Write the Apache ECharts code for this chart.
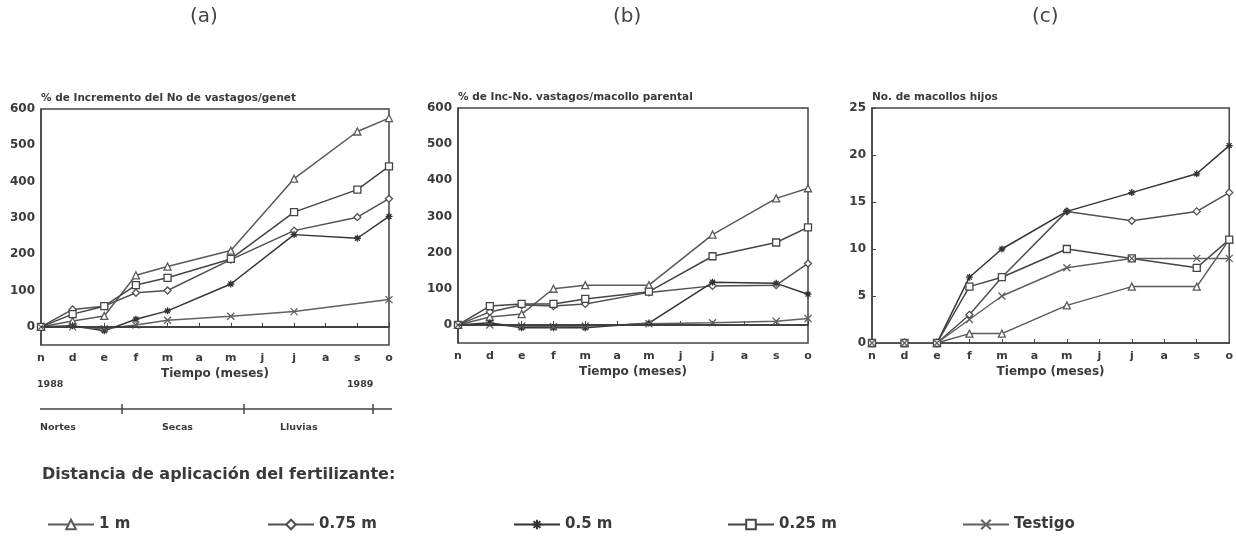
<!DOCTYPE html>
<html>
<head>
<meta charset="utf-8">
<script src="https://cdn.jsdelivr.net/npm/echarts@6/dist/echarts.min.js"></script>
<style>
  html, body { margin: 0; padding: 0; background: #fff; }
  #main { width: 1236px; height: 536px; }
</style>
</head>
<body>
<div id="main"></div>
<script>
// months Nov 1988 .. Oct 1989
var months = ["n", "d", "e", "f", "m", "a", "m", "j", "j", "a", "s", "o"];
var names = ["1 m", "0.75 m", "0.5 m", "0.25 m", "Testigo"];

// (a) % de incremento del No de vastagos/genet
var a1m = [0, 16, 30, 142, 166, null, 210, null, 408, null, 538, 575];
var a075 = [0, 48, 57, 94, 100, null, 185, null, 265, null, 302, 353];
var a05 = [0, 3, -11, 21, 44, null, 118, null, 254, null, 244, 304];
var a025 = [0, 35, 57, 115, 135, null, 187, null, 316, null, 378, 442];
var aTest = [0, 0, -5, 5, 18, null, 29, null, 42, null, null, 75];

// (b) % de Inc-No. vastagos/macollo parental
var b1m = [0, 22, 30, 100, 110, null, 110, null, 250, null, 350, 378];
var b075 = [0, 36, 55, 52, 58, null, 90, null, 108, null, 110, 170];
var b05 = [0, 6, -8, -8, -8, null, 5, null, 118, null, 115, 85];
var b025 = [0, 52, 58, 58, 72, null, 92, null, 190, null, 228, 270];
var bTest = [0, 0, -3, -5, -3, null, 3, null, 6, null, 10, 18];

// (c) No. de macollos hijos
var c1m = [0, 0, 0, 1, 1, null, 4, null, 6, null, 6, 11];
var c075 = [0, 0, 0, 3, 7, null, 14, null, 13, null, 14, 16];
var c05 = [0, 0, 0, 7, 10, null, 14, null, 16, null, 18, 21];
var c025 = [0, 0, 0, 6, 7, null, 10, null, 9, null, 8, 11];
var cTest = [0, 0, 0, 2.5, 5, null, 8, null, 9, null, 9, 9];

var yTicksPct = [0, 100, 200, 300, 400, 500, 600];
var yTicksC = [0, 5, 10, 15, 20, 25];

var FONT = "DejaVu Sans";
var INK = "#3a3a3a";

var asterisk = "path://M5,0L5,10M0,5L10,5M1.5,1.5L8.5,8.5M8.5,1.5L1.5,8.5";
var cross = "path://M0,0L10,10M10,0L0,10";
var styles = {
  "1 m": { symbol: "triangle", color: "#5a5a5a" },
  "0.75 m": { symbol: "diamond", color: "#505050" },
  "0.5 m": { symbol: asterisk, color: "#333333" },
  "0.25 m": { symbol: "rect", color: "#454545" },
  "Testigo": { symbol: cross, color: "#606060" }
};

var grids = [
  { left: 41, top: 109, width: 348, height: 236 },
  { left: 458, top: 108, width: 350, height: 235 },
  { left: 872, top: 108, width: 358, height: 235 }
];
grids.forEach(function (g) {
  g.show = true;
  g.borderColor = "#444";
  g.borderWidth = 1.5;
});

var axisNames = [
  "% de Incremento del No de vastagos/genet",
  "% de Inc-No. vastagos/macollo parental",
  "No. de macollos hijos"
];

var xAxes = [0, 1, 2].map(function (i) {
  return {
    type: "category", gridIndex: i, data: months, boundaryGap: false,
    axisLine: { lineStyle: { color: "#444", width: 1.5 } },
    axisTick: { inside: true, length: 4, lineStyle: { color: "#444" } },
    axisLabel: { color: INK, fontFamily: FONT, fontWeight: "bold", fontSize: 11, margin: 8, interval: 0 },
    name: "Tiempo (meses)", nameLocation: "middle", nameGap: 23,
    nameTextStyle: { color: INK, fontFamily: FONT, fontWeight: "bold", fontSize: 12 }
  };
});

var yAxes = [0, 1, 2].map(function (i) {
  var pct = i < 2;
  var ticks = pct ? yTicksPct : yTicksC;
  return {
    type: "value", gridIndex: i,
    min: pct ? -50 : 0, max: pct ? 600 : 25, interval: pct ? 50 : 5,
    splitLine: { show: false },
    axisLine: { show: true, lineStyle: { color: "#444", width: 1.5 } },
    axisTick: { show: !pct, inside: true, length: 4 },
    axisLabel: {
      color: INK, fontFamily: FONT, fontWeight: "bold", fontSize: 12, margin: 6,
      formatter: function (v) { return ticks.indexOf(v) >= 0 ? String(v) : ""; }
    },
    name: axisNames[i], nameLocation: "end", nameGap: 5,
    nameTextStyle: { color: INK, fontFamily: FONT, fontWeight: "bold", fontSize: 10.5, align: "left", verticalAlign: "bottom" }
  };
});

function mk(name, data, idx) {
  var s = styles[name];
  return {
    name: name, type: "line", xAxisIndex: idx, yAxisIndex: idx, data: data,
    connectNulls: true, symbol: s.symbol, symbolSize: 7,
    lineStyle: { color: s.color, width: 1.5 },
    itemStyle: { color: "#fff", borderColor: s.color, borderWidth: 1.3 },
    emphasis: { disabled: true }
  };
}

var series = [
  mk("1 m", a1m, 0), mk("0.75 m", a075, 0), mk("0.5 m", a05, 0), mk("0.25 m", a025, 0), mk("Testigo", aTest, 0),
  mk("1 m", b1m, 1), mk("0.75 m", b075, 1), mk("0.5 m", b05, 1), mk("0.25 m", b025, 1), mk("Testigo", bTest, 1),
  mk("1 m", c1m, 2), mk("0.75 m", c075, 2), mk("0.5 m", c05, 2), mk("0.25 m", c025, 2), mk("Testigo", cTest, 2)
];
// zero reference lines in (a) and (b)
series[4].markLine = { silent: true, symbol: "none", label: { show: false }, lineStyle: { color: "#333", type: "solid", width: 1.5 }, data: [{ yAxis: 0 }] };
series[9].markLine = { silent: true, symbol: "none", label: { show: false }, lineStyle: { color: "#333", type: "solid", width: 1.5 }, data: [{ yAxis: 0 }] };

var legendLeft = [42, 262, 508, 722, 957];
var legends = names.map(function (n, i) {
  return {
    data: [n], left: legendLeft[i], top: 512, itemWidth: 46, itemHeight: 12, itemGap: 10,
    selectedMode: false,
    textStyle: { color: INK, fontFamily: FONT, fontWeight: "bold", fontSize: 15 }
  };
});

var panelTitles = [["(a)", 205], ["(b)", 628], ["(c)", 1047]];
var small = { fill: INK, fontFamily: FONT, fontWeight: "bold", fontSize: 9.5 };
var graphic = panelTitles.map(function (p) {
  return { type: "text", left: p[1] - 15, top: 7, style: { text: p[0], fill: "#444", fontFamily: FONT, fontSize: 20 } };
}).concat([
  { type: "text", left: 37, top: 380, style: Object.assign({ text: "1988" }, small) },
  { type: "text", left: 347, top: 380, style: Object.assign({ text: "1989" }, small) },
  { type: "line", shape: { x1: 40, y1: 409, x2: 392, y2: 409 }, style: { stroke: "#444", lineWidth: 1.5 } },
  { type: "line", shape: { x1: 122, y1: 404, x2: 122, y2: 414 }, style: { stroke: "#444", lineWidth: 1.5 } },
  { type: "line", shape: { x1: 244, y1: 404, x2: 244, y2: 414 }, style: { stroke: "#444", lineWidth: 1.5 } },
  { type: "line", shape: { x1: 373, y1: 404, x2: 373, y2: 414 }, style: { stroke: "#444", lineWidth: 1.5 } },
  { type: "text", left: 40, top: 423, style: Object.assign({ text: "Nortes" }, small) },
  { type: "text", left: 162, top: 423, style: Object.assign({ text: "Secas" }, small) },
  { type: "text", left: 280, top: 423, style: Object.assign({ text: "Lluvias" }, small) },
  { type: "text", left: 42, top: 467, style: { text: "Distancia de aplicación del fertilizante:", fill: INK, fontFamily: FONT, fontWeight: "bold", fontSize: 16 } }
]);

var myChart = echarts.init(document.getElementById("main"), null, { renderer: "canvas" });
var option = {
  backgroundColor: "#fff",
  animation: false,
  grid: grids,
  xAxis: xAxes,
  yAxis: yAxes,
  legend: legends,
  series: series,
  graphic: graphic
};
myChart.setOption(option);
</script>
</body>
</html>
